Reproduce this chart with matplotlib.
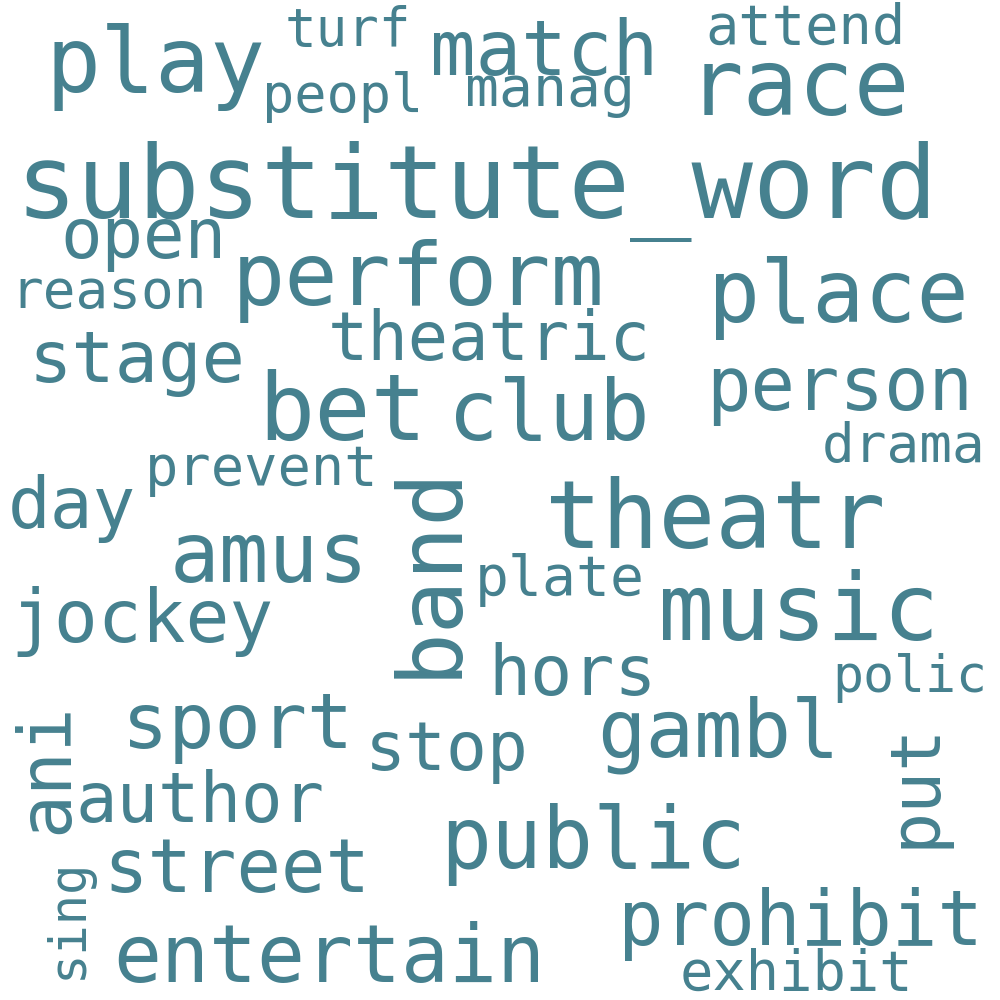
import matplotlib.pyplot as plt

# word cloud data: word and its font size in pixels
words = ["substitute_word", "play", "match", "race", "turf", "attend", "peopl", "manag",
         "open", "perform", "place", "reason", "theatric", "stage", "person", "bet", "club",
         "drama", "prevent", "band", "day", "theatr", "amus", "plate", "music", "jockey",
         "hors", "polic", "ani", "sport", "gambl", "stop", "put", "author", "public",
         "street", "sing", "prohibit", "entertain", "exhibit"]
sizes = [105, 94, 78, 95, 54, 57, 55, 58,
         71, 91, 89, 56, 69, 74, 76, 96, 86,
         56, 57, 92, 73, 97, 85, 58, 96, 75,
         72, 53, 75, 79, 83, 70, 72, 71, 87,
         76, 52, 78, 82, 57]

# layout: (x, y, rotation); horizontal words use left/baseline, rotated use centre
layout = [(15, 218, 0), (45, 92, 0), (430, 75, 0), (688, 115, 0), (285, 46, 0),
          (705, 44, 0), (262, 112, 0), (465, 106, 0), (60, 258, 0), (232, 305, 0),
          (708, 322, 0), (10, 308, 0), (328, 360, 0), (28, 382, 0), (706, 410, 0),
          (258, 440, 0), (448, 440, 0), (822, 462, 0), (145, 485, 0), (430, 570, 90),
          (8, 528, 0), (545, 548, 0), (170, 582, 0), (475, 595, 0), (658, 640, 0),
          (10, 642, 0), (488, 695, 0), (832, 692, 0), (47, 768, 90), (122, 748, 0),
          (597, 757, 0), (365, 770, 0), (915, 785, 90), (75, 822, 0), (440, 868, 0),
          (103, 892, 0), (68, 918, 90), (618, 945, 0), (113, 982, 0), (680, 990, 0)]

color = "#46818f"

fig = plt.figure(figsize=(10, 10), dpi=100)
ax = fig.add_axes([0, 0, 1, 1])
ax.set_xlim(0, 1000)
ax.set_ylim(1000, 0)
ax.axis("off")

for w, s, (x, y, r) in zip(words, sizes, layout):
    if r == 0:
        ax.text(x, y, w, fontsize=s * 0.7, family="DejaVu Sans Mono", color=color,
                ha="left", va="baseline")
    else:
        ax.text(x, y, w, fontsize=s * 0.7, family="DejaVu Sans Mono", color=color,
                ha="center", va="center", rotation=r)

plt.savefig("out.png")
